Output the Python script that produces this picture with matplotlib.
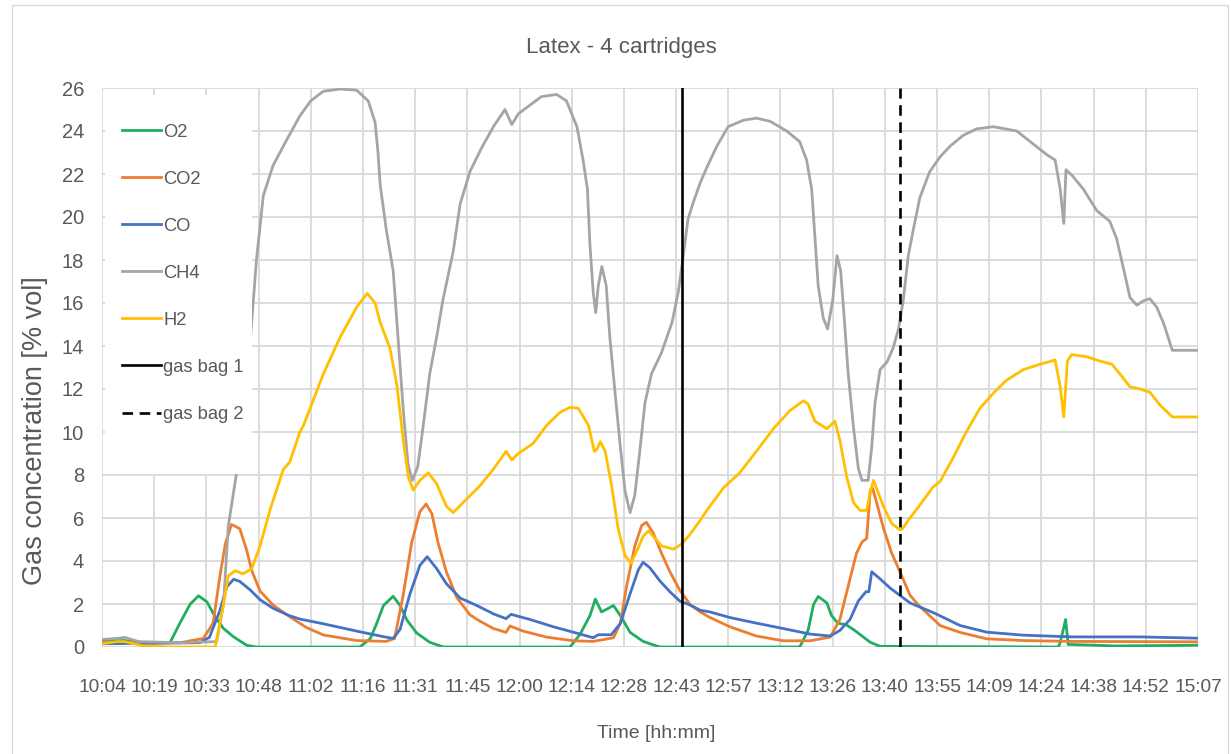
import matplotlib
matplotlib.use('Agg')
import matplotlib.pyplot as plt
from matplotlib.patches import Rectangle

plt.rcParams['font.family'] = ['Liberation Sans', 'DejaVu Sans']

#### DATA ####
# time axis: minutes after 10:04
tick_labels = ["10:04", "10:19", "10:33", "10:48", "11:02", "11:16", "11:31", "11:45",
               "12:00", "12:14", "12:28", "12:43", "12:57", "13:12", "13:26", "13:40",
               "13:55", "14:09", "14:24", "14:38", "14:52", "15:07"]
t_end = 303.0

o2_t = [0, 6.3, 11.5, 18.8, 21.5, 24.4, 26.7, 29.0, 31.3, 33.6, 36.4, 40.0, 42.7, 71.3, 74.2,
        75.9, 77.8, 80.5, 82.4, 84.3, 87.0, 90.6, 94.4, 129.4, 132.2, 134.9, 136.4, 138.1,
        140.0, 141.4, 143.3, 146.0, 149.6, 154.2, 192.9, 195.2, 196.7, 198.0, 200.4, 201.7,
        203.4, 205.8, 208.1, 210.5, 212.4, 215.1, 264.4, 264.9, 266.4, 267.1, 280.0, 303.0]
o2_v = [0.3, 0.3, 0.2, 0.2, 1.1, 2.0, 2.38, 2.1, 1.4, 0.86, 0.47, 0.08, 0.0, 0.0, 0.4,
        1.08, 1.93, 2.36, 1.93, 1.25, 0.65, 0.22, 0.0, 0.0, 0.6, 1.46, 2.23, 1.63,
        1.8, 1.93, 1.46, 0.68, 0.26, 0.0, 0.0, 0.77, 1.97, 2.35, 2.05, 1.46,
        1.11, 1.03, 0.77, 0.46, 0.22, 0.03, 0.0, 0.2, 1.28, 0.12, 0.05, 0.08]

co2_t = [0, 21.6, 28.0, 30.7, 32.6, 34.1, 35.8, 38.1, 40.0, 41.4, 43.7, 47.3, 51.1, 54.7, 56.6,
         61.2, 70.4, 78.6, 80.9, 83.3, 85.6, 87.9, 89.6, 91.2, 92.9, 95.2, 98.1, 101.7, 104.5,
         108.2, 111.7, 112.8, 116.4, 122.9, 130.3, 135.8, 141.4, 143.3, 145.0, 147.3, 149.2,
         150.5, 152.4, 154.7, 157.0, 159.7, 162.6, 165.4, 168.1, 173.6, 180.9, 188.3, 195.8,
         201.3, 204.0, 206.8, 208.6, 210.2, 211.4, 212.4, 213.0, 214.1, 216.0, 218.3, 220.6,
         223.4, 226.0, 229.8, 231.7, 237.2, 244.6, 254.7, 268.2, 303.0]
co2_v = [0.2, 0.2, 0.4, 1.1, 3.3, 4.8, 5.7, 5.5, 4.5, 3.55, 2.6, 1.95, 1.5, 1.1, 0.9,
         0.56, 0.3, 0.26, 0.4, 2.45, 4.85, 6.3, 6.65, 6.2, 4.85, 3.5, 2.3, 1.5, 1.2,
         0.86, 0.68, 0.98, 0.74, 0.46, 0.29, 0.26, 0.43, 1.1, 2.8, 4.7, 5.65,
         5.8, 5.3, 4.35, 3.5, 2.65, 1.97, 1.63, 1.37, 0.94, 0.51, 0.29, 0.29,
         0.46, 1.28, 3.17, 4.37, 4.9, 5.05, 7.3, 7.4, 6.75, 5.55, 4.37, 3.5,
         2.4, 1.9, 1.3, 1.0, 0.68, 0.38, 0.3, 0.26, 0.24]

co_t = [0, 27.1, 29.7, 32.6, 34.5, 36.4, 38.1, 41.0, 43.7, 47.3, 51.9, 54.7, 61.2, 70.4, 77.8,
        80.5, 82.4, 85.1, 87.9, 89.9, 92.5, 95.2, 99.0, 103.6, 107.2, 108.2, 111.7, 113.1,
        118.3, 124.8, 132.2, 135.8, 137.2, 140.8, 143.3, 146.0, 148.3, 149.6, 151.5, 154.2,
        157.0, 159.7, 162.6, 165.4, 168.1, 173.6, 180.9, 188.3, 195.8, 201.3, 204.0, 206.8,
        209.1, 211.2, 212.0, 212.8, 215.1, 217.9, 220.6, 223.4, 229.8, 231.7, 237.2, 244.6,
        254.7, 268.2, 287.0, 303.0]
co_v = [0.15, 0.2, 0.45, 1.7, 2.8, 3.15, 3.05, 2.65, 2.2, 1.8, 1.45, 1.3, 1.08, 0.74, 0.48,
        0.4, 0.82, 2.45, 3.8, 4.2, 3.65, 2.95, 2.28, 1.93, 1.63, 1.54, 1.32, 1.52,
        1.28, 0.94, 0.6, 0.43, 0.57, 0.57, 1.1, 2.48, 3.6, 3.94, 3.68, 3.08,
        2.57, 2.14, 1.95, 1.71, 1.63, 1.37, 1.11, 0.86, 0.6, 0.51, 0.77, 1.28,
        2.14, 2.57, 2.57, 3.5, 3.17, 2.74, 2.4, 2.05, 1.6, 1.45, 1.0, 0.69,
        0.55, 0.47, 0.47, 0.41]

ch4_t = [0, 4.3, 6.3, 10.1, 21.6, 31.7, 33.6, 34.9, 37.2, 40.7, 42.7, 44.6, 47.3, 51.1, 54.7,
         57.7, 61.2, 65.8, 70.4, 73.6, 75.5, 76.3, 76.9, 78.6, 80.5, 81.8, 83.3, 84.6, 85.8,
         87.3, 88.7, 90.6, 92.5, 94.2, 97.1, 99.0, 101.7, 104.9, 108.2, 111.4, 113.3, 115.1,
         118.3, 121.5, 125.7, 128.4, 131.3, 133.0, 134.2, 134.9, 135.8, 136.5, 137.2, 138.2,
         139.4, 140.4, 141.8, 143.3, 144.6, 146.0, 147.3, 148.8, 150.1, 151.9, 154.7, 157.6,
         159.3, 160.7, 162.0, 163.5, 165.4, 167.2, 170.0, 173.1, 177.3, 180.9, 184.7, 189.3,
         192.9, 194.8, 196.2, 197.1, 198.0, 199.4, 200.6, 202.0, 203.2, 204.2, 205.2, 206.3,
         207.8, 209.1, 210.1, 211.8, 212.8, 213.7, 215.1, 217.0, 218.7, 220.2, 221.5, 222.9,
         224.4, 226.1, 228.8, 231.7, 234.5, 238.1, 241.8, 246.4, 252.9, 257.4, 261.2, 263.5,
         264.9, 265.9, 266.5, 268.1, 271.3, 275.0, 278.6, 280.5, 282.4, 284.2, 286.1, 287.9,
         289.7, 291.6, 293.5, 295.9, 303.0]
ch4_v = [0.35, 0.4, 0.45, 0.25, 0.2, 0.25, 2.0, 5.6, 8.1, 13.6, 18.0, 21.0, 22.4, 23.6, 24.7,
         25.4, 25.85, 25.95, 25.9, 25.4, 24.4, 23.0, 21.5, 19.4, 17.5, 14.5, 11.0, 8.5, 7.75,
         8.4, 10.15, 12.7, 14.4, 16.1, 18.4, 20.6, 22.1, 23.2, 24.2, 25.0, 24.3, 24.8,
         25.2, 25.6, 25.7, 25.4, 24.2, 22.65, 21.3, 18.7, 16.5, 15.55, 16.8, 17.7,
         16.8, 14.4, 11.9, 9.3, 7.25, 6.25, 7.07, 9.3, 11.35, 12.7, 13.7, 15.1,
         16.5, 18.2, 19.9, 20.7, 21.6, 22.3, 23.3, 24.2, 24.5, 24.6, 24.45, 24.0,
         23.5, 22.65, 21.3, 19.05, 16.8, 15.3, 14.8, 16.1, 18.2, 17.5, 15.3, 12.7,
         10.15, 8.3, 7.75, 7.75, 9.3, 11.35, 12.9, 13.25, 13.9, 14.8, 16.1, 18.2,
         19.5, 20.9, 22.1, 22.8, 23.3, 23.8, 24.1, 24.2, 24.0, 23.4, 22.9, 22.65,
         21.3, 19.7, 22.2, 21.95, 21.3, 20.3, 19.8, 19.0, 17.6, 16.25, 15.9, 16.1,
         16.2, 15.8, 15.05, 13.8, 13.8]

h2_t = [0, 4.3, 6.3, 11.5, 18.8, 31.3, 33.6, 34.9, 36.8, 39.0, 41.4, 43.7, 46.5, 50.1, 51.9,
        54.7, 55.7, 61.2, 65.8, 70.4, 73.3, 75.5, 76.9, 79.6, 81.5, 83.3, 84.7, 86.0, 87.9,
        90.2, 92.5, 95.2, 97.1, 100.9, 104.5, 108.2, 111.7, 113.3, 115.1, 119.2, 122.9, 126.5,
        129.4, 131.7, 134.5, 136.1, 136.8, 137.8, 139.1, 140.8, 142.7, 144.6, 146.2, 147.7,
        149.6, 151.1, 152.4, 154.7, 158.0, 160.3, 162.6, 165.4, 167.2, 171.8, 176.3, 180.9,
        185.6, 190.2, 193.9, 195.2, 197.1, 200.4, 202.6, 204.0, 205.9, 207.8, 209.6, 211.4,
        212.4, 213.3, 214.1, 216.0, 218.3, 220.6, 221.3, 222.9, 225.2, 229.8, 231.7, 235.3,
        239.1, 242.7, 246.4, 250.0, 254.7, 259.3, 263.5, 264.9, 265.9, 266.9, 268.1, 272.3,
        275.9, 279.2, 281.9, 284.2, 287.0, 289.7, 292.5, 295.9, 303.0]
h2_v = [0.15, 0.25, 0.25, 0.05, 0.0, 0.0, 2.0, 3.3, 3.55, 3.4, 3.65, 4.7, 6.4, 8.25, 8.6,
        10.0, 10.3, 12.7, 14.4, 15.8, 16.45, 16.0, 15.1, 13.9, 12.2, 9.6, 7.9, 7.3, 7.75,
        8.1, 7.6, 6.55, 6.25, 6.9, 7.5, 8.27, 9.1, 8.7, 9.0, 9.47, 10.3, 10.9,
        11.15, 11.1, 10.3, 9.1, 9.2, 9.55, 9.1, 7.6, 5.5, 4.25, 3.9, 4.4,
        5.15, 5.4, 5.15, 4.7, 4.55, 4.8, 5.25, 5.9, 6.35, 7.4, 8.1, 9.1,
        10.15, 11.0, 11.45, 11.3, 10.5, 10.15, 10.5, 9.6, 7.9, 6.7, 6.35, 6.35,
        7.2, 7.75, 7.4, 6.55, 5.75, 5.45, 5.5, 5.9, 6.4, 7.45, 7.7, 8.8,
        10.05, 11.1, 11.8, 12.4, 12.9, 13.15, 13.35, 12.1, 10.7, 13.3, 13.6, 13.5,
        13.3, 13.15, 12.6, 12.1, 12.0, 11.85, 11.25, 10.7, 10.7]

gas_bag_1 = 160.3   # ~12:44
gas_bag_2 = 220.6   # ~13:45

series = [(o2_t, o2_v, "#1fae60", "O2"),
          (co2_t, co2_v, "#ED7D31", "CO2"),
          (co_t, co_v, "#4472C4", "CO"),
          (ch4_t, ch4_v, "#A5A5A5", "CH4"),
          (h2_t, h2_v, "#FFC000", "H2")]

TXT = "#595959"
W, H = 1231, 754

fig = plt.figure(figsize=(W / 100, H / 100), dpi=100)
ax = fig.add_axes([102 / W, 1 - 647 / H, 1096 / W, 559 / H])

for t, v, c, name in series:
    ax.plot(t, v, color=c, lw=2.0, label=name)
ax.axvline(gas_bag_1, color="k", lw=1.9, label="gas bag 1")
ax.axvline(gas_bag_2, color="k", lw=1.9, ls=(0, (4, 2.5)), label="gas bag 2")

# axes / grid
ax.set_xlim(0, t_end)
ax.set_ylim(0, 26)
xt = [t_end * i / (len(tick_labels) - 1) for i in range(len(tick_labels))]
ax.set_xticks(xt)
ax.set_xticklabels(tick_labels)
ax.set_yticks(range(0, 27, 2))
ax.tick_params(length=0, colors=TXT)
ax.tick_params(axis='x', pad=23, labelsize=13.8)
ax.tick_params(axis='y', pad=13, labelsize=14.5)
ax.grid(True, color="#D9D9D9", lw=1.3)
ax.set_axisbelow(True)
for s in ax.spines.values():
    s.set_visible(False)

# white legend area (covers the lines like the Excel legend box)
ax.add_patch(Rectangle((3 / 1096, (647 - 474) / 559), 147 / 1096, 379 / 559,
                       transform=ax.transAxes, facecolor="white", edgecolor="none",
                       zorder=4))
leg = ax.legend(loc="upper left", bbox_to_anchor=(0.0, 0.9725), fontsize=13.2,
                frameon=False, handlelength=2.1, handletextpad=0.15,
                labelspacing=1.64, borderaxespad=0.2, borderpad=0.9)
leg.set_zorder(5)
for txt in leg.get_texts():
    txt.set_color(TXT)

fig.text(621 / W, 1 - 48 / H, "Latex - 4 cartridges", ha="center", va="center",
         fontsize=16, color=TXT)
fig.text(656 / W, 1 - 733 / H, "Time [hh:mm]", ha="center", va="center",
         fontsize=14, color=TXT)
fig.text(35 / W, 1 - 431 / H, "Gas concentration [% vol]", ha="center", va="center",
         rotation=90, fontsize=19.5, color=TXT)

# chart area border
fig.add_artist(Rectangle((12 / W, -0.02), 1216 / W, 1.02 - 5 / H, transform=fig.transFigure,
                         fill=False, edgecolor="#D9D9D9", lw=1))

fig.savefig("out.png", dpi=100)
